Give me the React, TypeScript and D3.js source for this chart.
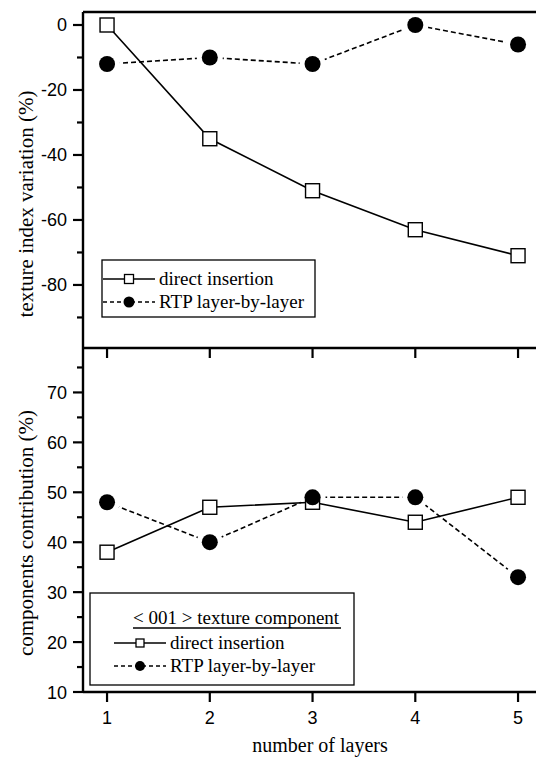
import React from 'react';
import * as d3 from 'd3';

const layers = [1, 2, 3, 4, 5];
const variationDirect = [0, -35, -51, -63, -71];
const variationRtp = [-12, -10, -12, 0, -6];
const contribDirect = [38, 47, 48, 44, 49];
const contribRtp = [48, 40, 49, 49, 33];

const topMajorTicks = [0, -20, -40, -60, -80];
const topMinorTicks = [-10, -30, -50, -70, -90];
const bottomMajorTicks = [10, 20, 30, 40, 50, 60, 70];
const bottomMinorTicks = [15, 25, 35, 45, 55, 65, 75];

const seriesNames = ['direct insertion', 'RTP layer-by-layer'];
const componentTitle = '< 001 > texture component';

const W = 536;
const H = 764;
const left = 83;
const top = 12;
const mid = 348;
const bottom = 692;

const tickFont = '"Liberation Sans", Arial, sans-serif';
const serif = '"Liberation Serif", "Times New Roman", serif';

const App = () => {
  const x = d3.scaleLinear().domain([0.766, 5.2]).range([left, left + (5.2 - 0.766) * 102.75]);
  const yTop = d3.scaleLinear().domain([-99.4, 4]).range([mid, top]);
  const yBot = d3.scaleLinear().domain([10, 78.9]).range([bottom, mid]);

  const pts = (vals: number[]) => layers.map((l, i) => [l, vals[i]] as [number, number]);

  const panel = (y: d3.ScaleLinear<number, number>, direct: number[], rtp: number[], key: string) => {
    const line = d3.line<[number, number]>().x(d => x(d[0])).y(d => y(d[1]));
    return (
      <g key={key}>
        <path d={line(pts(rtp)) || ''} fill="none" stroke="#000" strokeWidth={1.6} strokeDasharray="5,3" />
        {pts(rtp).map((d, i) => (
          <circle key={`h${i}`} cx={x(d[0])} cy={y(d[1])} r={13} fill="#fff" />
        ))}
        <path d={line(pts(direct)) || ''} fill="none" stroke="#000" strokeWidth={1.6} />
        {pts(direct).map((d, i) => (
          <rect key={`s${i}`} x={x(d[0]) - 7} y={y(d[1]) - 7} width={14} height={14} fill="#fff" stroke="#000" strokeWidth={1.4} />
        ))}
        {pts(rtp).map((d, i) => (
          <circle key={`c${i}`} cx={x(d[0])} cy={y(d[1])} r={8} fill="#000" />
        ))}
      </g>
    );
  };

  const yTicks = (y: d3.ScaleLinear<number, number>, major: number[], minor: number[], key: string) => (
    <g key={key}>
      {major.map(t => (
        <g key={`M${t}`}>
          <line x1={left - 10} x2={left} y1={y(t)} y2={y(t)} stroke="#000" strokeWidth={2.2} />
          <text x={67} y={y(t) + 6.5} textAnchor="end" fontFamily={tickFont} fontSize={18}>{t}</text>
        </g>
      ))}
      {minor.map(t => (
        <line key={`m${t}`} x1={left - 6} x2={left} y1={y(t)} y2={y(t)} stroke="#000" strokeWidth={2.2} />
      ))}
    </g>
  );

  const legendRow = (cx: number, cy: number, textX: number, filled: boolean, label: string, size: number) => (
    <g>
      <line x1={cx - 26} x2={cx + 26} y1={cy} y2={cy} stroke="#000" strokeWidth={1.3} strokeDasharray={filled ? '4,3' : undefined} />
      {filled ? (
        <circle cx={cx} cy={cy} r={size / 2 + 1} fill="#000" />
      ) : (
        <rect x={cx - size / 2} y={cy - size / 2} width={size} height={size} fill="#fff" stroke="#000" strokeWidth={1.3} />
      )}
      <text x={textX} y={cy + 6} fontFamily={serif} fontSize={19}>{label}</text>
    </g>
  );

  return (
    <svg width={W} height={H} style={{ position: 'absolute', left: 0, top: 0, background: '#fff' }}>
      {panel(yTop, variationDirect, variationRtp, 'top')}
      {panel(yBot, contribDirect, contribRtp, 'bot')}

      {/* frame */}
      <line x1={left} x2={W} y1={top} y2={top} stroke="#000" strokeWidth={2.4} />
      <line x1={left} x2={W} y1={mid} y2={mid} stroke="#000" strokeWidth={2.4} />
      <line x1={left} x2={W} y1={bottom} y2={bottom} stroke="#000" strokeWidth={2.4} />
      <line x1={left} x2={left} y1={top} y2={bottom} stroke="#000" strokeWidth={2.4} />

      {yTicks(yTop, topMajorTicks, topMinorTicks, 'yt')}
      {yTicks(yBot, bottomMajorTicks, bottomMinorTicks, 'yb')}

      {layers.map(l => (
        <g key={`x${l}`}>
          <line x1={x(l)} x2={x(l)} y1={mid} y2={mid + 10} stroke="#000" strokeWidth={2.2} />
          <line x1={x(l)} x2={x(l)} y1={bottom} y2={bottom + 10} stroke="#000" strokeWidth={2.2} />
          <text x={x(l)} y={724} textAnchor="middle" fontFamily={tickFont} fontSize={18}>{l}</text>
        </g>
      ))}

      {/* top legend */}
      <rect x={102} y={260} width={213} height={57} fill="#fff" stroke="#000" strokeWidth={1.3} />
      {legendRow(129, 279, 159, false, seriesNames[0], 9)}
      {legendRow(129, 302, 159, true, seriesNames[1], 9)}

      {/* bottom legend */}
      <rect x={90} y={593} width={264} height={92} fill="#fff" stroke="#000" strokeWidth={1.3} />
      <text x={133} y={624} fontFamily={serif} fontSize={19}>{componentTitle}</text>
      <line x1={133} x2={341} y1={628} y2={628} stroke="#000" strokeWidth={1.3} />
      {legendRow(140, 643, 170, false, seriesNames[0], 8)}
      {legendRow(140, 666, 170, true, seriesNames[1], 8)}

      {/* axis titles */}
      <text transform={`translate(33, 204) rotate(-90)`} textAnchor="middle" fontFamily={serif} fontSize={21}>texture index variation (%)</text>
      <text transform={`translate(33, 533) rotate(-90)`} textAnchor="middle" fontFamily={serif} fontSize={21}>components contribution (%)</text>
      <text x={320} y={752} textAnchor="middle" fontFamily={serif} fontSize={20}>number of layers</text>
    </svg>
  );
};

export default App;
